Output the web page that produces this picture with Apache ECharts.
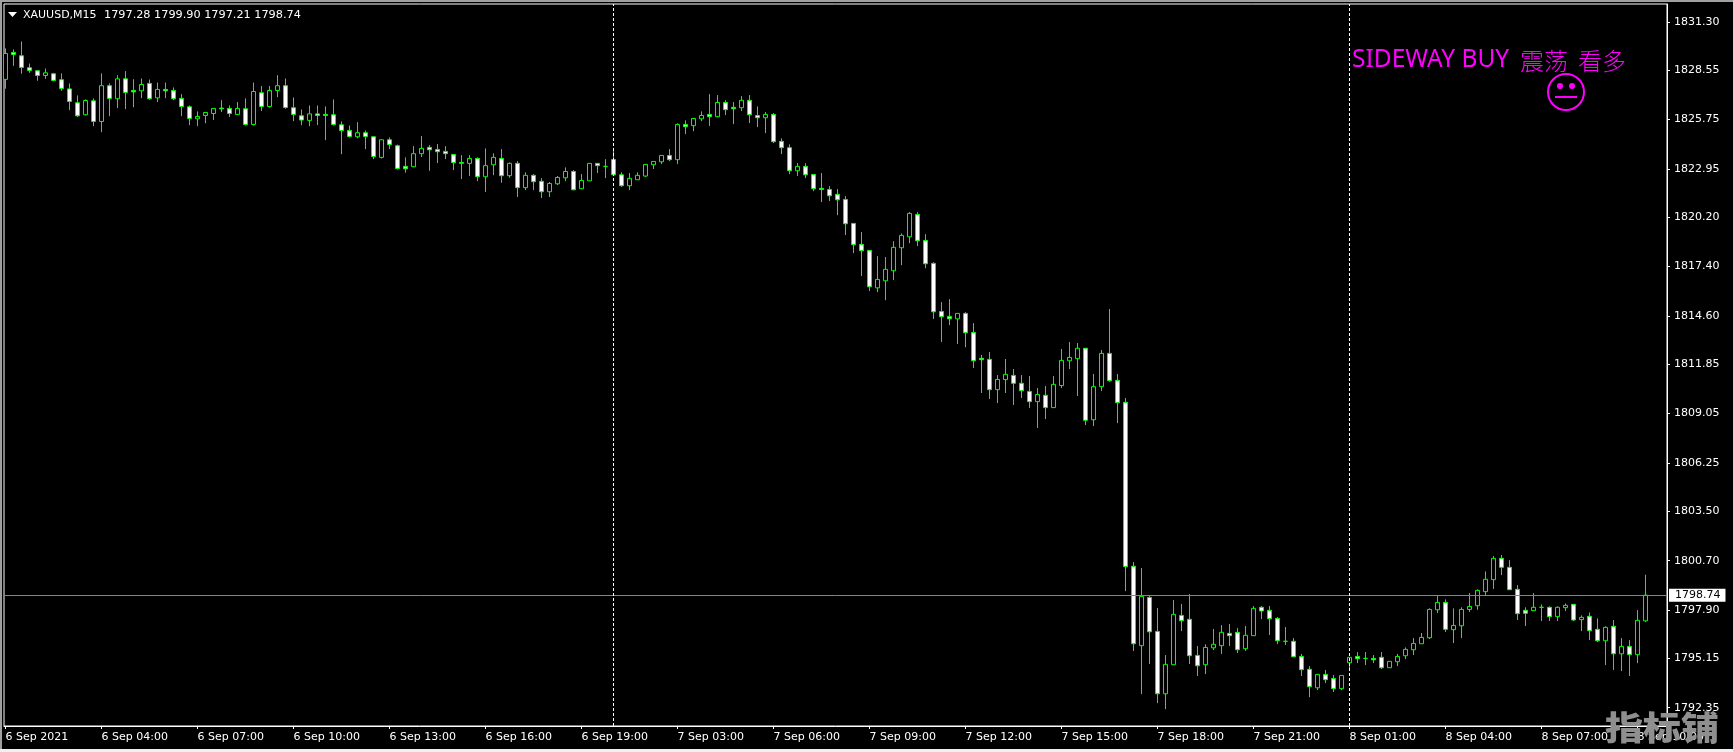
<!DOCTYPE html>
<html>
<head>
<meta charset="utf-8">
<style>html,body{margin:0;padding:0;background:#000}#chart{width:1733px;height:752px}</style>
<script src="https://cdn.jsdelivr.net/npm/echarts@6/dist/echarts.min.js"></script>
</head>
<body>
<div id="chart"></div>
<script>
// XAUUSD M15 bars, one value per bar
const opens = [
  1828.03,1829.56,1829.37,1828.69,1828.52,1828.25,1828.35,1828.01,1827.49,1826.70,
  1826.02,1826.81,1825.64,1827.67,1826.93,1828.06,1827.40,1827.38,1827.80,1826.98,
  1827.46,1827.40,1826.95,1826.47,1825.79,1825.98,1826.09,1826.40,1826.38,1826.04,
  1826.36,1825.47,1827.27,1826.49,1827.40,1827.67,1826.42,1825.96,1825.70,1826.07,
  1826.04,1826.02,1825.45,1825.13,1824.77,1825.00,1824.77,1823.60,1824.60,1824.26,
  1823.09,1823.07,1823.81,1824.17,1824.05,1823.94,1823.77,1823.31,1823.26,1823.54,
  1822.50,1823.18,1823.54,1822.56,1823.26,1821.88,1822.58,1822.24,1821.65,1822.10,
  1822.44,1822.80,1821.82,1822.27,1823.26,1823.09,1823.48,1822.61,1821.99,1822.33,
  1822.54,1823.18,1823.35,1823.71,1823.47,1825.47,1825.40,1825.79,1826.04,1825.91,
  1826.72,1826.44,1826.42,1826.84,1825.98,1825.85,1826.04,1824.51,1824.15,1822.84,
  1823.09,1822.63,1821.84,1821.78,1821.50,1821.21,1819.85,1818.66,1818.32,1816.19,
  1816.59,1817.16,1818.47,1819.09,1820.36,1818.88,1817.58,1814.85,1814.57,1814.43,
  1814.74,1813.66,1812.19,1812.13,1810.41,1810.98,1811.22,1810.77,1810.31,1809.73,
  1810.09,1809.39,1810.64,1812.05,1812.17,1812.76,1808.70,1810.58,1812.47,1810.94,
  1809.69,1800.38,1795.87,1798.61,1796.68,1793.14,1794.79,1797.59,1797.37,1795.32,
  1794.79,1795.75,1795.87,1796.57,1796.63,1795.70,1796.44,1798.05,1797.88,1797.42,
  1796.12,1796.12,1795.26,1794.53,1793.48,1794.24,1794.01,1793.43,1794.90,1795.26,
  1795.15,1795.15,1795.21,1794.62,1794.96,1795.30,1795.64,1795.98,1796.32,1797.91,
  1798.33,1796.78,1797.00,1797.93,1798.14,1798.94,1799.62,1800.83,1800.32,1799.07,
  1797.88,1797.86,1798.05,1798.05,1797.52,1798.03,1798.22,1797.35,1797.54,1796.80,
  1796.15,1796.97,1795.41,1795.83,1795.36,1797.28
];
const closes = [
  1829.50,1829.44,1828.71,1828.54,1828.25,1828.40,1827.97,1827.51,1826.78,1825.96,
  1826.83,1825.64,1827.67,1826.95,1828.06,1827.29,1827.32,1827.74,1826.93,1827.46,
  1827.38,1826.93,1826.49,1825.81,1825.92,1826.15,1826.38,1826.36,1826.09,1826.38,
  1825.47,1827.34,1826.49,1827.40,1827.67,1826.43,1826.04,1825.72,1826.07,1825.98,
  1825.98,1825.47,1825.13,1824.79,1825.00,1824.79,1823.65,1824.60,1824.33,1822.97,
  1822.95,1823.81,1824.11,1824.03,1823.92,1823.81,1823.30,1823.26,1823.54,1822.50,
  1823.13,1823.60,1822.56,1823.26,1821.88,1822.58,1822.22,1821.65,1822.12,1822.46,
  1822.80,1821.76,1822.29,1823.26,1823.13,1823.09,1822.61,1821.99,1822.41,1822.58,
  1823.20,1823.37,1823.71,1823.47,1825.47,1825.34,1825.81,1825.98,1825.91,1826.72,
  1826.31,1826.36,1826.84,1826.02,1825.85,1826.04,1824.49,1824.15,1822.84,1823.09,
  1822.61,1821.82,1821.78,1821.42,1821.19,1819.83,1818.64,1818.30,1816.25,1816.67,
  1817.24,1818.49,1819.17,1820.42,1818.86,1817.56,1814.83,1814.55,1814.43,1814.74,
  1813.64,1812.05,1812.11,1810.41,1810.99,1811.28,1810.77,1810.35,1809.73,1810.14,
  1809.39,1810.71,1812.07,1812.24,1812.76,1808.67,1810.58,1812.47,1810.92,1809.67,
  1800.36,1795.98,1798.67,1796.66,1793.14,1794.81,1797.65,1797.29,1795.30,1794.73,
  1795.77,1795.95,1796.63,1796.44,1795.64,1796.46,1797.99,1797.84,1797.40,1796.15,
  1796.12,1795.24,1794.51,1793.54,1794.24,1793.94,1793.43,1794.18,1795.21,1795.13,
  1795.15,1795.07,1794.62,1794.98,1795.26,1795.66,1796.00,1796.34,1797.93,1798.33,
  1796.80,1797.02,1797.93,1798.10,1799.01,1799.64,1800.83,1800.32,1799.05,1797.69,
  1797.71,1798.05,1798.05,1797.52,1798.05,1798.16,1797.33,1797.48,1796.72,1796.15,
  1796.91,1795.41,1795.83,1795.36,1797.31,1798.74
];
const lows = [
  1827.50,1828.80,1828.35,1828.40,1827.95,1828.06,1827.93,1827.38,1826.28,1825.89,
  1825.98,1825.37,1825.03,1825.94,1826.40,1826.34,1826.45,1826.96,1826.87,1826.74,
  1826.96,1826.85,1825.94,1825.43,1825.37,1825.54,1825.72,1826.17,1825.89,1826.00,
  1825.41,1825.41,1826.23,1826.43,1827.02,1826.36,1825.66,1825.43,1825.37,1825.43,
  1824.58,1825.41,1823.78,1824.73,1824.69,1824.07,1823.50,1823.54,1824.07,1822.91,
  1822.73,1823.05,1823.62,1822.84,1823.28,1823.50,1822.88,1822.37,1822.54,1822.25,
  1821.63,1822.59,1822.16,1822.44,1821.35,1821.74,1821.74,1821.29,1821.35,1822.03,
  1822.25,1821.74,1821.80,1822.27,1822.71,1822.42,1822.54,1821.93,1821.74,1822.33,
  1822.48,1822.94,1823.22,1823.39,1823.22,1824.92,1825.09,1825.66,1825.38,1825.89,
  1826.00,1825.49,1826.23,1825.55,1825.32,1824.98,1824.41,1823.79,1822.65,1822.54,
  1822.42,1821.68,1821.06,1821.12,1820.32,1819.19,1818.16,1816.86,1816.01,1815.95,
  1815.49,1816.63,1817.48,1818.73,1818.56,1817.31,1814.42,1813.11,1814.07,1813.00,
  1812.82,1811.64,1810.22,1809.88,1809.65,1810.22,1809.54,1809.93,1809.37,1808.23,
  1808.74,1809.39,1810.50,1811.58,1810.05,1808.40,1808.34,1810.33,1810.86,1808.51,
  1798.97,1795.57,1793.12,1794.83,1792.61,1792.27,1794.79,1796.70,1794.83,1794.15,
  1794.26,1795.62,1795.40,1795.85,1795.45,1795.57,1796.44,1797.38,1796.48,1795.96,
  1795.91,1795.22,1794.15,1792.95,1793.35,1793.75,1793.24,1793.35,1794.60,1794.88,
  1794.77,1794.88,1794.54,1794.62,1794.71,1795.11,1795.34,1795.98,1796.25,1797.72,
  1796.65,1796.02,1796.30,1797.78,1797.91,1798.75,1799.09,1799.88,1799.03,1797.33,
  1796.99,1797.84,1797.27,1797.27,1797.27,1797.84,1797.27,1796.70,1796.19,1796.08,
  1794.77,1794.49,1794.43,1794.15,1794.88,1797.21
];
const highs = [
  1829.79,1829.73,1830.18,1828.93,1828.55,1828.65,1828.40,1828.37,1827.80,1827.12,
  1826.89,1826.95,1828.37,1827.80,1828.27,1828.50,1828.04,1828.08,1828.02,1827.85,
  1827.85,1827.57,1827.19,1826.55,1826.21,1826.15,1826.38,1826.85,1826.55,1826.74,
  1826.95,1827.85,1827.65,1827.65,1828.27,1828.08,1827.00,1826.32,1826.55,1826.55,
  1826.49,1826.89,1825.64,1825.41,1825.60,1825.13,1824.79,1824.62,1824.73,1824.33,
  1823.60,1824.24,1824.81,1824.30,1824.36,1824.24,1823.79,1823.73,1823.73,1823.60,
  1824.11,1823.83,1824.07,1823.31,1823.39,1822.75,1822.65,1822.42,1822.20,1822.54,
  1823.03,1822.88,1822.65,1823.26,1823.26,1823.50,1824.07,1822.75,1822.71,1822.75,
  1823.22,1823.39,1823.73,1824.07,1825.53,1825.70,1825.81,1826.21,1827.19,1827.14,
  1826.85,1826.74,1827.08,1827.14,1826.49,1826.17,1826.12,1824.68,1824.34,1823.28,
  1823.27,1822.63,1822.71,1821.97,1821.80,1821.40,1819.85,1819.36,1818.32,1817.99,
  1817.94,1818.84,1819.28,1820.49,1820.49,1819.24,1817.65,1815.38,1815.55,1814.74,
  1814.81,1814.19,1812.38,1812.55,1811.24,1812.15,1811.58,1811.24,1811.18,1810.50,
  1810.62,1811.18,1812.72,1813.11,1813.06,1812.76,1811.30,1812.66,1814.99,1811.30,
  1809.93,1800.62,1800.28,1798.69,1798.01,1795.34,1798.46,1798.24,1798.80,1795.85,
  1795.95,1796.82,1797.04,1797.10,1796.87,1796.99,1798.12,1798.12,1798.12,1797.50,
  1796.93,1796.30,1795.40,1794.71,1794.26,1794.49,1794.20,1794.18,1795.21,1795.51,
  1795.51,1795.34,1795.51,1794.98,1795.40,1795.77,1796.30,1796.59,1797.99,1798.69,
  1798.50,1797.99,1798.05,1798.86,1799.07,1800.09,1800.96,1801.02,1800.73,1799.31,
  1798.05,1798.86,1798.22,1798.10,1798.10,1798.27,1798.22,1797.59,1797.76,1797.42,
  1796.97,1797.33,1796.30,1796.19,1797.89,1799.90
];

const timeTickBars = [0,12,24,36,48,60,72,84,96,108,120,132,144,156,168,180,192,204];
const timeLabels = ['6 Sep 2021','6 Sep 04:00','6 Sep 07:00','6 Sep 10:00','6 Sep 13:00','6 Sep 16:00','6 Sep 19:00',
  '7 Sep 03:00','7 Sep 06:00','7 Sep 09:00','7 Sep 12:00','7 Sep 15:00','7 Sep 18:00','7 Sep 21:00',
  '8 Sep 01:00','8 Sep 04:00','8 Sep 07:00','8 Sep 10:00'];
const priceTicks = [1831.30,1828.55,1825.75,1822.95,1820.20,1817.40,1814.60,1811.85,1809.05,1806.25,1803.50,1800.70,1797.90,1795.15,1792.35];
const daySeparators = [76,168];
const lastPrice = 1798.74;

const UI_FONT = '"DejaVu Sans"';
const GREEN = '#00ff00';
const MAGENTA = '#ff00ff';

const bars = opens.map((o, i) => [i, o, closes[i], lows[i], highs[i]]);

const myChart = echarts.init(document.getElementById('chart'));
myChart.setOption({
  animation: false,
  backgroundColor: '#000',
  grid: { left: 4, top: 4, width: 1663, height: 722, show: true, borderColor: '#fff', borderWidth: 1, backgroundColor: 'transparent' },
  xAxis: {
    type: 'value',
    min: -0.1875,
    max: 207.6875,
    splitLine: { show: false },
    axisLine: { show: true, onZero: false, lineStyle: { color: '#fff' } },
    axisTick: { show: true, length: 3, customValues: timeTickBars, lineStyle: { color: '#fff' } },
    axisLabel: {
      customValues: timeTickBars,
      formatter: v => timeLabels[timeTickBars.indexOf(v)],
      color: '#fff',
      fontFamily: UI_FONT,
      fontSize: 11,
      align: 'left',
      margin: 6,
      hideOverlap: false
    }
  },
  yAxis: {
    type: 'value',
    position: 'right',
    min: 1791.31,
    max: 1832.31,
    scale: true,
    splitLine: { show: false },
    axisLine: { show: true, onZero: false, lineStyle: { color: '#fff' } },
    axisTick: { show: true, length: 3, customValues: priceTicks, lineStyle: { color: '#fff' } },
    axisLabel: {
      customValues: priceTicks,
      formatter: v => v.toFixed(2),
      color: '#fff',
      fontFamily: UI_FONT,
      fontSize: 11,
      margin: 7
    }
  },
  series: [{
    type: 'candlestick',
    data: bars,
    encode: { x: 0, y: [1, 2, 3, 4] },
    barWidth: 5,
    silent: true,
    itemStyle: {
      color: '#000',
      color0: '#fff',
      borderColor: GREEN,
      borderColor0: GREEN,
      borderColorDoji: GREEN,
      borderWidth: 1
    },
    markLine: {
      silent: true,
      symbol: 'none',
      animation: false,
      data: [
        {
          yAxis: lastPrice,
          lineStyle: { color: '#778899', width: 1, type: 'solid' },
          label: {
            show: true, position: 'end', distance: 2, formatter: lastPrice.toFixed(2),
            color: '#000', backgroundColor: '#fff', fontFamily: UI_FONT, fontSize: 11,
            padding: [1, 5, 1, 6]
          }
        },
        ...daySeparators.map(b => ({
          xAxis: b,
          lineStyle: { color: '#fff', width: 1, type: [3, 2] },
          label: { show: false }
        }))
      ]
    }
  }],
  graphic: [
    // window edge
    { type: 'rect', shape: { x: 0, y: 0, width: 1733, height: 2 }, style: { fill: '#a0a0a0' } },
    { type: 'rect', shape: { x: 0, y: 0, width: 2, height: 752 }, style: { fill: '#a0a0a0' } },
    { type: 'rect', shape: { x: 0, y: 749, width: 1733, height: 3 }, style: { fill: '#f0f0f0' } },
    // symbol line
    { type: 'polygon', shape: { points: [[8, 12], [17, 12], [12.5, 17]] }, style: { fill: '#fff' } },
    { type: 'text', x: 23, y: 10, style: { text: 'XAUUSD,M15', fill: '#fff', font: '11px ' + UI_FONT } },
    { type: 'text', x: 104, y: 10, style: { text: '1797.28 1799.90 1797.21 1798.74', fill: '#fff', font: '11.25px ' + UI_FONT } },
    // note on the chart
    { type: 'text', x: 1352, y: 48, style: { text: 'SIDEWAY BUY', fill: MAGENTA, font: '24.5px "Noto Sans"' } },
    { type: 'text', x: 1520, y: 49, style: { text: '震荡', fill: MAGENTA, font: '300 24px "Noto Sans CJK SC"' } },
    { type: 'text', x: 1578, y: 49, style: { text: '看多', fill: MAGENTA, font: '300 24px "Noto Sans CJK SC"' } },
    { type: 'circle', shape: { cx: 1566, cy: 92, r: 18 }, style: { fill: 'none', stroke: MAGENTA, lineWidth: 2 } },
    { type: 'circle', shape: { cx: 1560, cy: 86, r: 3 }, style: { fill: MAGENTA } },
    { type: 'circle', shape: { cx: 1572, cy: 86, r: 3 }, style: { fill: MAGENTA } },
    { type: 'line', shape: { x1: 1555, y1: 97, x2: 1577, y2: 97 }, style: { stroke: MAGENTA, lineWidth: 2 } },
    // site stamp
    { type: 'text', x: 1605, y: 711, scaleY: 0.87, z: 100, style: { text: '指标铺', fill: '#8f8f8f', font: '900 38px "Noto Sans CJK SC"' } }
  ]
});
</script>
</body>
</html>
